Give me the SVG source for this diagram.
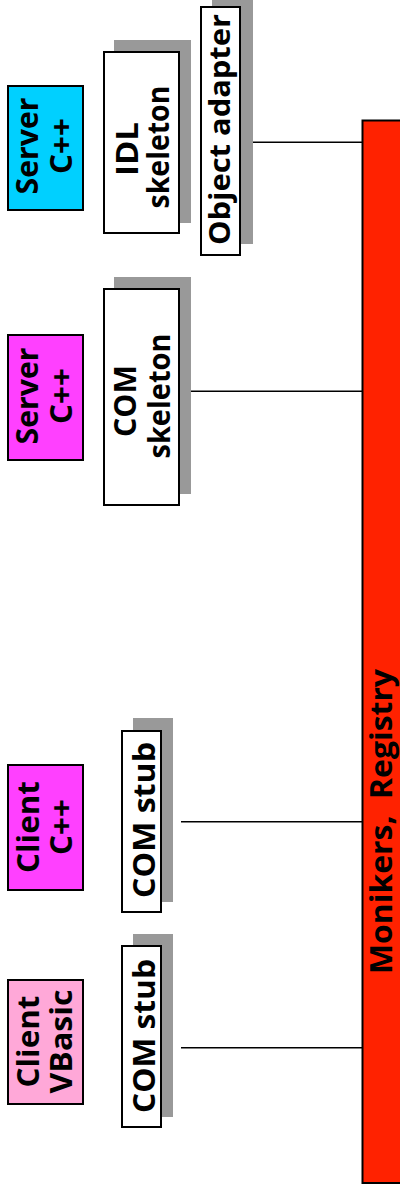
<svg xmlns="http://www.w3.org/2000/svg" width="400" height="1194" viewBox="0 0 400 1194">
<style>
.box{stroke:#000;stroke-width:2}
.shadow{fill:#999999}
.wbox{fill:#fff;stroke:#000;stroke-width:2}
.t{font-family:"Open Sans","DejaVu Sans",sans-serif;font-weight:bold;font-size:31px;fill:#000;text-anchor:middle}
.conn{stroke:#000;stroke-width:1.5;fill:none}
</style>
<rect width="400" height="1194" fill="#fff"/>
<g id="connectors">
<line class="conn" x1="253" y1="142.3" x2="362" y2="142.3"/>
<line class="conn" x1="191" y1="391.3" x2="362" y2="391.3"/>
<line class="conn" x1="181" y1="821.7" x2="362" y2="821.7"/>
<line class="conn" x1="181" y1="1047.7" x2="362" y2="1047.7"/>
</g>
<g id="bus">
<rect class="box" x="362.5" y="120.5" width="50" height="1062.5" fill="#ff2200"/>
<text class="t" xml:space="preserve" transform="translate(0,821.5) rotate(-90)" x="0" y="392" textLength="305" lengthAdjust="spacingAndGlyphs">Monikers,  Registry</text>
</g>
<g id="server-cpp-corba">
<rect class="box" x="8" y="86" width="75" height="124" fill="#00d0ff"/>
<text class="t" transform="translate(0,146) rotate(-90)" x="0" y="38" textLength="97" lengthAdjust="spacingAndGlyphs">Server</text>
<text class="t" transform="translate(0,146) rotate(-90)" x="0" y="72" textLength="56" lengthAdjust="spacingAndGlyphs">C++</text>
</g>
<g id="idl-skeleton">
<rect class="shadow" x="114" y="40" width="77" height="183"/>
<rect class="wbox" x="104" y="52" width="75" height="181"/>
<text class="t" transform="translate(0,149) rotate(-90)" x="0" y="138" textLength="54" lengthAdjust="spacingAndGlyphs">IDL</text>
<text class="t" transform="translate(0,147) rotate(-90)" x="0" y="169" textLength="123" lengthAdjust="spacingAndGlyphs">skeleton</text>
</g>
<g id="object-adapter">
<rect class="shadow" x="212" y="-5" width="41" height="249"/>
<rect class="wbox" x="201" y="7" width="39" height="248"/>
<text class="t" style="font-size:29px" transform="translate(0,129.5) rotate(-90)" x="0" y="230" textLength="231" lengthAdjust="spacingAndGlyphs">Object adapter</text>
</g>
<g id="server-cpp-com">
<rect class="box" x="8" y="335" width="75" height="125" fill="#ff40ff"/>
<text class="t" transform="translate(0,396) rotate(-90)" x="0" y="38" textLength="97" lengthAdjust="spacingAndGlyphs">Server</text>
<text class="t" transform="translate(0,396) rotate(-90)" x="0" y="72" textLength="56" lengthAdjust="spacingAndGlyphs">C++</text>
</g>
<g id="com-skeleton">
<rect class="shadow" x="114" y="277" width="77" height="217"/>
<rect class="wbox" x="104" y="289" width="75" height="216"/>
<text class="t" transform="translate(0,401) rotate(-90)" x="0" y="136" textLength="72" lengthAdjust="spacingAndGlyphs">COM</text>
<text class="t" transform="translate(0,396) rotate(-90)" x="0" y="170" textLength="125" lengthAdjust="spacingAndGlyphs">skeleton</text>
</g>
<g id="client-cpp">
<rect class="box" x="8" y="765" width="75" height="125" fill="#ff40ff"/>
<text class="t" transform="translate(0,827) rotate(-90)" x="0" y="38.5" textLength="92" lengthAdjust="spacingAndGlyphs">Client</text>
<text class="t" transform="translate(0,827) rotate(-90)" x="0" y="72" textLength="56" lengthAdjust="spacingAndGlyphs">C++</text>
</g>
<g id="com-stub-1">
<rect class="shadow" x="133" y="718" width="40" height="184"/>
<rect class="wbox" x="122" y="731" width="39" height="181"/>
<text class="t" style="font-size:30px" transform="translate(0,820) rotate(-90)" x="0" y="155" textLength="156" lengthAdjust="spacingAndGlyphs">COM stub</text>
</g>
<g id="client-vbasic">
<rect class="box" x="8" y="980" width="75" height="124" fill="#ffa8d8"/>
<text class="t" transform="translate(0,1041.5) rotate(-90)" x="0" y="38.5" textLength="92" lengthAdjust="spacingAndGlyphs">Client</text>
<text class="t" transform="translate(0,1041.5) rotate(-90)" x="0" y="72" textLength="104" lengthAdjust="spacingAndGlyphs">VBasic</text>
</g>
<g id="com-stub-2">
<rect class="shadow" x="133" y="934" width="40" height="183"/>
<rect class="wbox" x="122" y="946" width="39" height="181"/>
<text class="t" style="font-size:30px" transform="translate(0,1036) rotate(-90)" x="0" y="155" textLength="154" lengthAdjust="spacingAndGlyphs">COM stub</text>
</g>
</svg>
